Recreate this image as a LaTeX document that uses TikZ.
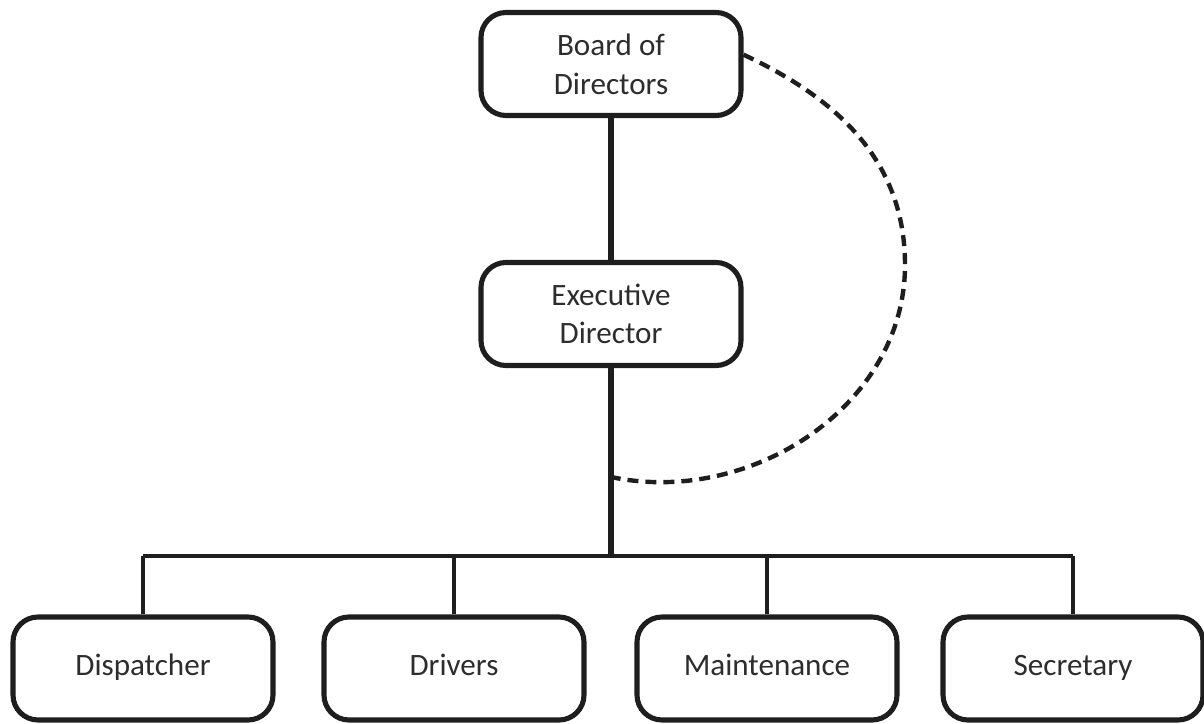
\documentclass[tikz,border=0pt]{standalone}
\usepackage{fontspec}
\setmainfont{Carlito}
\usepackage{tikz}
\usetikzlibrary{positioning,calc}
\definecolor{boxline}{RGB}{30, 30, 30}
\definecolor{boxtext}{RGB}{45, 45, 45}
\tikzset{
    role box/.style={rectangle, rounded corners=0.5cm, draw=boxline, line width=2.9pt, fill=white,
        minimum width=5.2cm, minimum height=2.06cm, align=center, text=boxtext,
        font=\fontsize{17.7}{22}\selectfont},
    staff box/.style={role box, text height=12.5pt, text depth=4pt},
    chain line/.style={draw=boxline, line width=2.9pt},
    branch line/.style={draw=boxline, line width=2.2pt},
    advice line/.style={draw=boxline, line width=2.5pt, dash pattern=on 0.22cm off 0.14cm}
}

\begin{document}
\begin{tikzpicture}
    \useasboundingbox (0,0) rectangle (24.08,14.46);

    % Top levels
    \node[role box] (board) at (12.22,13.18) {Board of\\Directors};
    \node[role box] (exec) at (12.22,8.18) {Executive\\Director};

    % Staff
    \node[staff box] (dispatch) at (2.86,1.09) {Dispatcher};
    \node[staff box] (drivers) at (9.08,1.09) {Drivers};
    \node[staff box] (maint) at (15.34,1.09) {Maintenance};
    \node[staff box] (secretary) at (21.46,1.09) {Secretary};

    % Chain of command
    \coordinate (bus) at (12.22,3.34);
    \coordinate (bend) at (12.22,4.92);
    \coordinate (swing) at (18.1,9.16);
    \draw[chain line] (board) -- (exec);
    \draw[chain line] (exec) -- (bus);
    \draw[branch line] (bus -| dispatch.north) -- (bus -| secretary.north);
    \foreach \n in {dispatch, drivers, maint, secretary}
        \draw[branch line] (bus -| \n.north) -- (\n.north);

    % Oversight loop
    \draw[advice line] (board.4) to[out=-25, in=90] (swing) to[out=-90, in=-12] (bend);
\end{tikzpicture}
\end{document}
